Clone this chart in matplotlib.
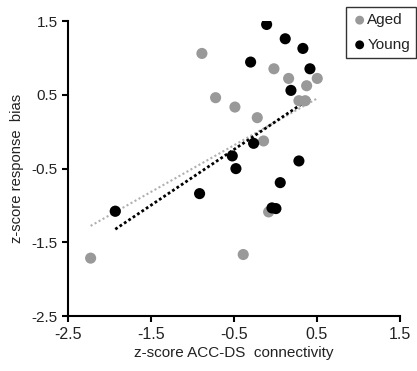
import matplotlib
matplotlib.use("Agg")
import matplotlib.pyplot as plt
import numpy as np

plt.rcParams['font.family'] = ['Liberation Sans', 'DejaVu Sans']

aged_x = [-0.886, -0.018, 0.159, 0.504, 0.376, -0.721, -0.488, 0.283, 0.359,
          -0.219, -0.143, -0.082, -2.227, -0.388, -1.930]
aged_y = [1.062, 0.854, 0.723, 0.723, 0.624, 0.462, 0.335, 0.421, 0.421,
          0.191, -0.125, -1.087, -1.714, -1.665, -1.078]
young_x = [-0.106, 0.118, 0.331, -0.299, 0.416, 0.187, -0.263, -0.520, -0.476,
           0.283, 0.058, -0.914, -0.042, 0.006, -1.930]
young_y = [1.455, 1.261, 1.130, 0.945, 0.854, 0.561, -0.157, -0.328, -0.500,
           -0.396, -0.690, -0.839, -1.033, -1.042, -1.078]

# trendline (slope, intercept)
aged_trend = (0.633, 0.133)
young_trend = (0.756, 0.137)

ticks = [-2.5, -1.5, -0.5, 0.5, 1.5]
tick_labels = ['-2.5', '-1.5', '-0.5', '0.5', '1.5']

gray = '#999999'
fig = plt.figure(figsize=(4.17, 3.71), dpi=100)
ax = fig.add_axes([0.163, 0.148, 0.796, 0.795])

ax.scatter(aged_x, aged_y, s=64, color=gray, edgecolors='none', zorder=3, label='Aged')
ax.scatter(young_x, young_y, s=64, color='black', edgecolors='none', zorder=4, label='Young')

ax_rng = np.array([min(aged_x), max(aged_x)])
ax.plot(ax_rng, aged_trend[0] * ax_rng + aged_trend[1], color='#b0b0b0',
        linestyle=(0, (1, 1.2)), linewidth=1.5, zorder=2)
yx_rng = np.array([min(young_x), max(young_x)])
ax.plot(yx_rng, young_trend[0] * yx_rng + young_trend[1], color='black',
        linestyle=(0, (1, 0.9)), linewidth=2.0, zorder=2)

ax.set_xlim(-2.5, 1.5)
ax.set_ylim(-2.5, 1.5)
ax.set_xticks(ticks)
ax.set_xticklabels(tick_labels, fontsize=11.5)
ax.set_yticks(ticks)
ax.set_yticklabels(tick_labels, fontsize=11)
for s in ['top', 'right']:
    ax.spines[s].set_visible(False)
for s in ['left', 'bottom']:
    ax.spines[s].set_linewidth(1.5)
    ax.spines[s].set_color('black')
ax.tick_params(direction='out', length=4, width=1.5, colors='black',
               labelcolor='#222222')
ax.set_xlabel('z-score ACC-DS  connectivity', fontsize=11, color='#222222', labelpad=3)
ax.set_ylabel('z-score response  bias', fontsize=10.6, color='#222222', labelpad=5)

leg = fig.legend(loc='upper right', bbox_to_anchor=(0.998, 0.981), frameon=True,
                 fancybox=False, edgecolor='black', fontsize=11, handletextpad=0.0,
                 borderpad=0.4, labelspacing=0.7, handlelength=1.0, markerscale=0.8,
                 borderaxespad=0)
leg.get_frame().set_linewidth(1.0)
for t in leg.get_texts():
    t.set_color('#222222')

fig.savefig('out.png', dpi=100)
